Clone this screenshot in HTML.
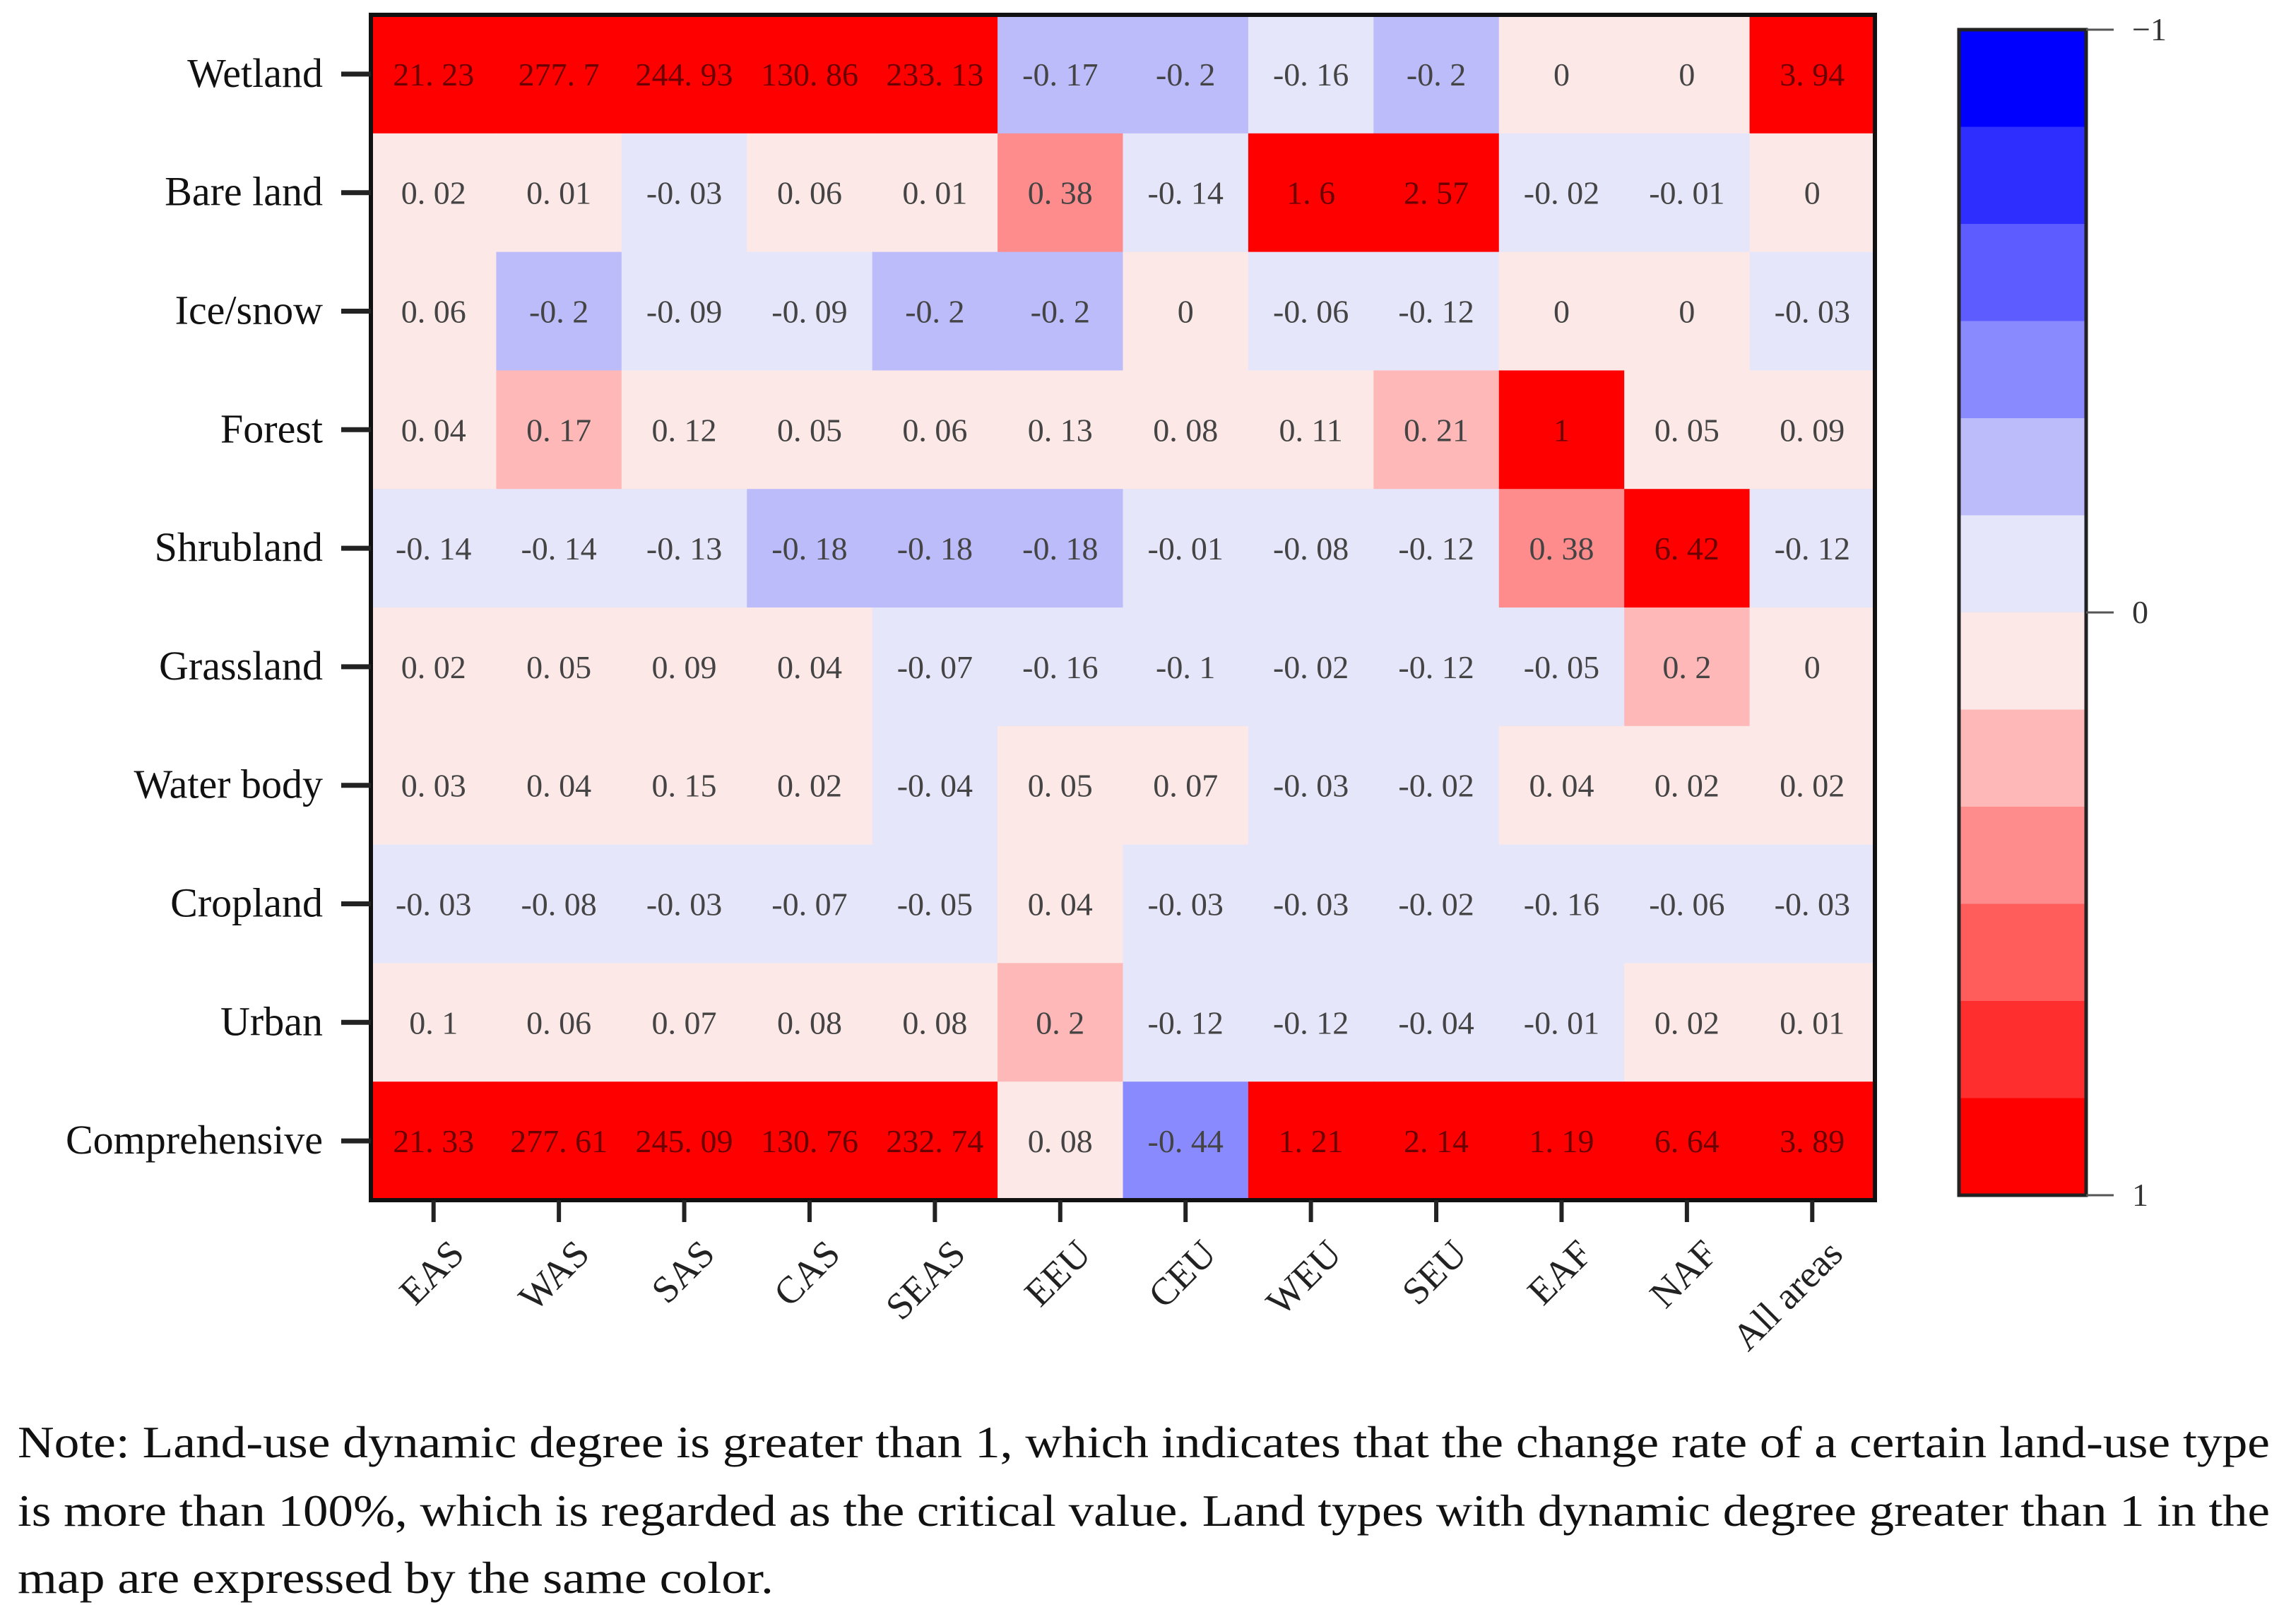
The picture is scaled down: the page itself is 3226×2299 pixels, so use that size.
<!DOCTYPE html>
<html><head><meta charset="utf-8"><style>
html,body{margin:0;padding:0;background:#fff;}
svg{display:block;}
</style></head><body>
<svg id="chart" width="3226" height="2299" viewBox="0 0 3226 2299" xmlns="http://www.w3.org/2000/svg" font-family="'Liberation Serif', serif">
<g id="cells"></g>
<g id="labels"></g>
<rect x="525" y="21" width="2129" height="1678" fill="none" stroke="#111" stroke-width="6"/>
<g id="axes"></g>
<g id="cbar"></g>
<g font-size="64" fill="#111">
<text x="25" y="2063" textLength="3188" lengthAdjust="spacingAndGlyphs">Note: Land-use dynamic degree is greater than 1, which indicates that the change rate of a certain land-use type</text>
<text x="25" y="2160" textLength="3188" lengthAdjust="spacingAndGlyphs">is more than 100%, which is regarded as the critical value. Land types with dynamic degree greater than 1 in the</text>
<text x="25" y="2255" textLength="1070" lengthAdjust="spacingAndGlyphs">map are expressed by the same color.</text>
</g>
</svg>
<script>
const regions = ["EAS","WAS","SAS","CAS","SEAS","EEU","CEU","WEU","SEU","EAF","NAF","All areas"];
const landTypes = ["Wetland","Bare land","Ice/snow","Forest","Shrubland","Grassland","Water body","Cropland","Urban","Comprehensive"];
const rowWetland = [21.23,277.7,244.93,130.86,233.13,-0.17,-0.2,-0.16,-0.2,0,0,3.94];
const rowBare = [0.02,0.01,-0.03,0.06,0.01,0.38,-0.14,1.6,2.57,-0.02,-0.01,0];
const rowIce = [0.06,-0.2,-0.09,-0.09,-0.2,-0.2,0,-0.06,-0.12,0,0,-0.03];
const rowForest = [0.04,0.17,0.12,0.05,0.06,0.13,0.08,0.11,0.21,1,0.05,0.09];
const rowShrub = [-0.14,-0.14,-0.13,-0.18,-0.18,-0.18,-0.01,-0.08,-0.12,0.38,6.42,-0.12];
const rowGrass = [0.02,0.05,0.09,0.04,-0.07,-0.16,-0.1,-0.02,-0.12,-0.05,0.2,0];
const rowWater = [0.03,0.04,0.15,0.02,-0.04,0.05,0.07,-0.03,-0.02,0.04,0.02,0.02];
const rowCrop = [-0.03,-0.08,-0.03,-0.07,-0.05,0.04,-0.03,-0.03,-0.02,-0.16,-0.06,-0.03];
const rowUrban = [0.1,0.06,0.07,0.08,0.08,0.2,-0.12,-0.12,-0.04,-0.01,0.02,0.01];
const rowComp = [21.33,277.61,245.09,130.76,232.74,0.08,-0.44,1.21,2.14,1.19,6.64,3.89];
const matrix = [rowWetland,rowBare,rowIce,rowForest,rowShrub,rowGrass,rowWater,rowCrop,rowUrban,rowComp];
const cbarTicks = ["-1","0","1"];
const palette = ["#0000ff","#2e2eff","#5c5cff","#8a8aff","#bcbcfb","#e6e6fa","#fde8e8","#ffb8b8","#ff8c8c","#ff5c5c","#ff2e2e","#ff0000"];

const NS="http://www.w3.org/2000/svg";
const L=525,R=2654,T=21,B=1699;
const cw=(R-L)/regions.length, rh=(B-T)/landTypes.length;
const xC=i=>L+cw*(i+0.5), yC=j=>T+rh*(j+0.5);
function colorIdx(v){
  let k=Math.floor((v+1)/2*12);
  if(v===0) k=6;
  return Math.max(0,Math.min(11,k));
}
function mk(tag,attrs,parent){const e=document.createElementNS(NS,tag);for(const k in attrs)e.setAttribute(k,attrs[k]);parent.appendChild(e);return e;}
const gC=document.getElementById('cells'),gL=document.getElementById('labels'),gA=document.getElementById('axes'),gB=document.getElementById('cbar');
matrix.forEach((row,j)=>{row.forEach((v,i)=>{
  const k=colorIdx(v);
  const r=mk('rect',{x:L+cw*i,y:T+rh*j,width:cw+0.5,height:rh+0.5,fill:palette[k]},gC);
  
  
  const t=mk('text',{x:xC(i),y:yC(j)+16,'text-anchor':'middle','font-size':46,fill:k>=10?'#6a0000':'#444'},gL);
  t.textContent=String(v).replace('.','. ');
  
  
});});
landTypes.forEach((n,j)=>{
  const l=mk('line',{x1:483,x2:525,y1:yC(j),y2:yC(j),stroke:'#222','stroke-width':7},gA);
  
  
  const t=mk('text',{x:457,y:yC(j)+18,'text-anchor':'end','font-size':58,fill:'#111'},gA);
  t.textContent=n;
  
  
});
regions.forEach((n,i)=>{
  const l=mk('line',{x1:xC(i),x2:xC(i),y1:1699,y2:1730,stroke:'#222','stroke-width':6},gA);
  
  
  const x=xC(i)+46,y=1778;
  const t=mk('text',{x:x,y:y,'text-anchor':'end','font-size':54,fill:'#222',transform:'rotate(-45 '+x+' '+y+')'},gA);
  t.textContent=n;
  
  
});
const CL=2773,CR=2953,CT=42,CB=1692,bh=(CB-CT)/palette.length;
palette.forEach((c,k)=>{
  const r=mk('rect',{x:CL,y:CT+bh*k,width:CR-CL,height:bh+0.5,fill:c},gB);
  
  
});
const fr=mk('rect',{x:CL,y:CT,width:CR-CL,height:CB-CT,fill:'none',stroke:'#222','stroke-width':5},gB);


cbarTicks.forEach((s,k)=>{
  const y=CT+(CB-CT)*k/(cbarTicks.length-1);
  const l=mk('line',{x1:CR,x2:2992,y1:y,y2:y,stroke:'#555','stroke-width':3},gB);
  
  
  const t=mk('text',{x:3018,y:y+15,'font-size':46,fill:'#333'},gB);
  t.textContent=s.replace('-','−');
  
  
});
</script>
</body></html>
